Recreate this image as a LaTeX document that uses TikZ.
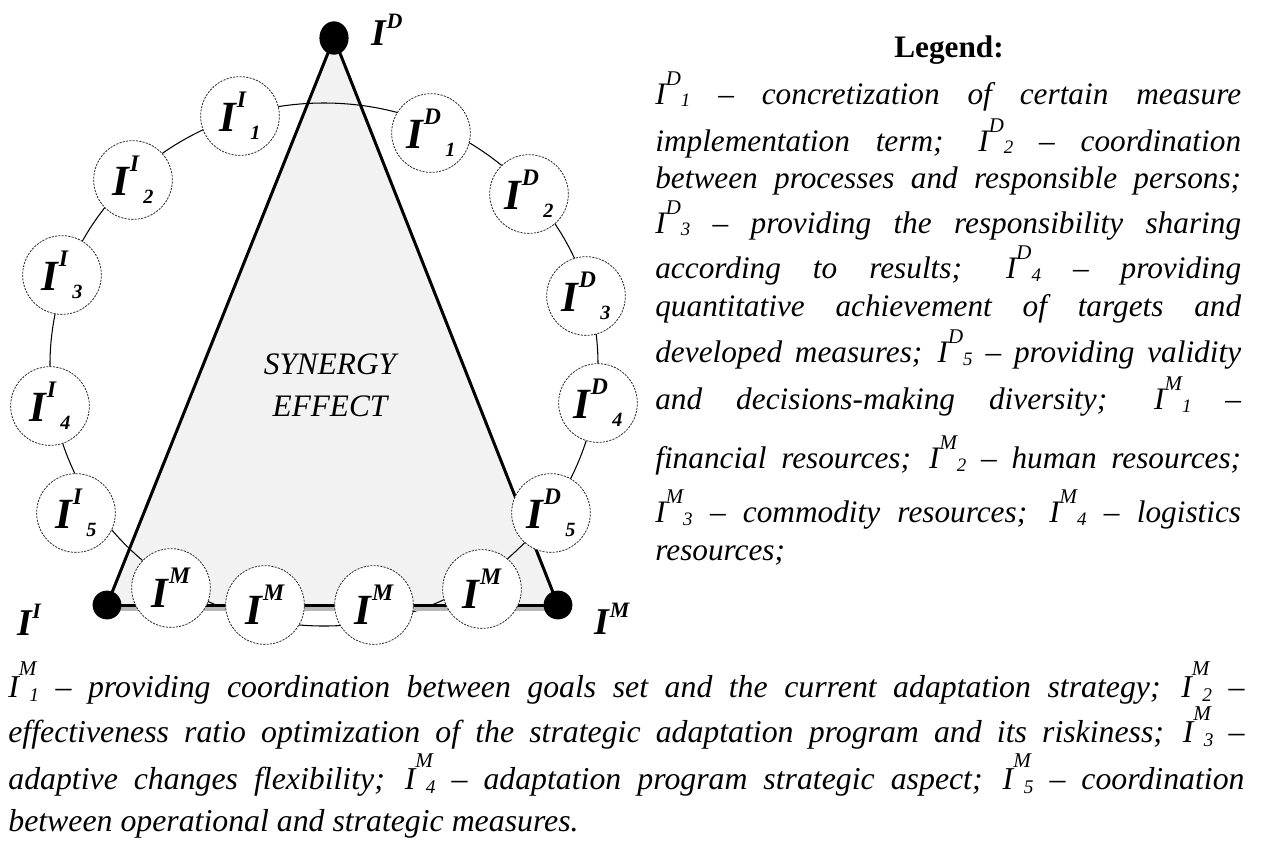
\documentclass[tikz,border=0pt]{standalone}
\usepackage{fontspec}
\setmainfont{Liberation Serif}
\usetikzlibrary{shapes.geometric}
\pgfdeclarelayer{paper}
\pgfdeclarelayer{back}
\pgfsetlayers{paper,back,main}
\definecolor{trifill}{HTML}{F2F2F2}
\definecolor{bandgray}{HTML}{B8B8B8}

% label inside a ring node: bold italic I with superscript and optional subscript
\newcommand\ringsup[1]{{\fontsize{24.5pt}{27pt}\selectfont\bfseries\itshape I\kern0.3pt\raisebox{13.5pt}{\fontsize{13.5pt}{14pt}\selectfont #1}}}
\newcommand\ringlab[2]{{\ringsup{#1}\kern2.5pt\raisebox{-4.5pt}{\fontsize{11.5pt}{12pt}\selectfont\bfseries\itshape #2}}}
% label at a vertex of the triangle
\newcommand\vertlab[1]{{\fontsize{21.5pt}{24pt}\selectfont\bfseries\itshape I\kern0.3pt\raisebox{10pt}{\fontsize{12.5pt}{14pt}\selectfont #1}}}
% indicator symbol inside running text
\newcommand\Iv[2]{\textit{I}\raisebox{10.8pt}{\fontsize{11.9pt}{12pt}\selectfont\itshape #1}\raisebox{-1.7pt}{\fontsize{10.8pt}{12pt}\selectfont\itshape #2}}
\newcommand\Ib[2]{\textit{I}\raisebox{12pt}{\fontsize{12pt}{12pt}\selectfont\itshape #1}\kern-4pt\raisebox{-2.5pt}{\fontsize{11pt}{12pt}\selectfont\itshape #2}}
\newlength\legw \setlength\legw{333.4pt}
\newlength\botw \setlength\botw{703.6pt}

\begin{document}
\begin{tikzpicture}[x=0.02cm, y=-0.02cm,
  ringnode/.style={circle, draw=black!85, dash pattern=on 1.2pt off 0.7pt,
    line width=0.45pt, fill=white, minimum size=44.8pt, inner sep=0pt},
  dot/.style={circle, fill=black, minimum size=16.4pt, inner sep=0pt},
  topdot/.style={ellipse, fill=black, minimum width=16.6pt, minimum height=19pt, inner sep=0pt},
  vlabel/.style={inner sep=0pt},
  edge/.style={line width=1.7pt, line join=round},
  band/.style={line width=2.6pt, draw=bandgray},
  ringline/.style={line width=0.6pt},
  lline/.style={anchor=base west, inner sep=0pt, font=\fontsize{17.8pt}{20pt}\selectfont\itshape},
  bline/.style={anchor=base west, inner sep=0pt, font=\fontsize{18.1pt}{20pt}\selectfont\itshape}]

\begin{pgfonlayer}{paper}
  \fill[white] (0,0) rectangle (1264,850);
\end{pgfonlayer}
\useasboundingbox (0,0) rectangle (1264,850);

% vertices of the triangle
\node[topdot] (tD) at (334,38) {};
\node[dot] (tI) at (107,605) {};
\node[dot] (tM) at (558,605) {};

% vertex labels
\node[vlabel] (lD) at (387,30) {\vertlab{D}};
\node[vlabel] (lI) at (29,620) {\vertlab{I}};
\node[vlabel] (lM) at (612,619) {\vertlab{M}};

% indicator nodes on the ring
\node[ringnode] (I1) at (240,116) {\ringlab{I}{1}};
\node[ringnode] (I2) at (133,180) {\ringlab{I}{2}};
\node[ringnode] (I3) at (62,275) {\ringlab{I}{3}};
\node[ringnode] (I4) at (50,406) {\ringlab{I}{4}};
\node[ringnode] (I5) at (76,513) {\ringlab{I}{5}};
\node[ringnode] (M1) at (171,588) {\ringsup{M}};
\node[ringnode] (M2) at (265,605) {\ringsup{M}};
\node[ringnode] (M3) at (374,605) {\ringsup{M}};
\node[ringnode] (M4) at (482,589) {\ringsup{M}};
\node[ringnode] (D5) at (551,513) {\ringlab{D}{5}};
\node[ringnode] (D4) at (598,403) {\ringlab{D}{4}};
\node[ringnode] (D3) at (586,296) {\ringlab{D}{3}};
\node[ringnode] (D2) at (529,194) {\ringlab{D}{2}};
\node[ringnode] (D1) at (431,133) {\ringlab{D}{1}};

% heading of the triangle
\node[inner sep=0pt, align=center, font=\fontsize{17.8pt}{23.8pt}\selectfont\itshape]
  (syn) at (330,385) {SYNERGY\\EFFECT};

\begin{pgfonlayer}{back}
  \fill[trifill] (tI.center) -- (tD.center) -- (tM.center) -- cycle;
  \coordinate (ringc) at (324,364.5);
  \draw[ringline] (ringc) ellipse [x radius=274, y radius=261.5];
  \draw[band] ([yshift=-2pt]tI.center) -- ([yshift=-2pt]tM.center);
  \draw[edge] (tI.center) -- (tD.center) -- (tM.center);
  \draw[edge] (tI.center) -- (tM.center);
\end{pgfonlayer}

% legend
\node[anchor=base, inner sep=0pt, font=\fontsize{17.8pt}{20pt}\selectfont\bfseries]
  (lgt) at (949,57) {Legend:};
\node[lline] (lg1) at (655,104) {\makebox[\legw][s]{\Iv{D}{1} -- concretization of certain measure}};
\node[lline] (lg2) at (655,151) {\makebox[\legw][s]{implementation term; \Iv{D}{2} -- coordination}};
\node[lline] (lg3) at (655,188) {\makebox[\legw][s]{between processes and responsible persons;}};
\node[lline] (lg4) at (655,233) {\makebox[\legw][s]{\Iv{D}{3} -- providing the responsibility sharing}};
\node[lline] (lg5) at (655,278) {\makebox[\legw][s]{according to results; \Iv{D}{4} -- providing}};
\node[lline] (lg6) at (655,316) {\makebox[\legw][s]{quantitative achievement of targets and}};
\node[lline] (lg7) at (655,362) {\makebox[\legw][s]{developed measures; \Iv{D}{5} -- providing validity}};
\node[lline] (lg8) at (655,409) {\makebox[\legw][s]{and decisions-making diversity; \Iv{M}{1} --}};
\node[lline] (lg9) at (655,468) {\makebox[\legw][s]{financial resources; \Iv{M}{2} -- human resources;}};
\node[lline] (lg10) at (655,522) {\makebox[\legw][s]{\Iv{M}{3} -- commodity resources; \Iv{M}{4} -- logistics}};
\node[lline] (lg11) at (655,560) {resources;};

% notes below the diagram
\node[bline] (bt1) at (8,697) {\makebox[\botw][s]{\Ib{M}{1} -- providing coordination between goals set and the current adaptation strategy; \Ib{M}{2} --}};
\node[bline] (bt2) at (8,742) {\makebox[\botw][s]{effectiveness ratio optimization of the strategic adaptation program and its riskiness; \Ib{M}{3} --}};
\node[bline] (bt3) at (8,789) {\makebox[\botw][s]{adaptive changes flexibility; \Ib{M}{4} -- adaptation program strategic aspect; \Ib{M}{5} -- coordination}};
\node[bline] (bt4) at (8,831) {between operational and strategic measures.};
\end{tikzpicture}
\end{document}
